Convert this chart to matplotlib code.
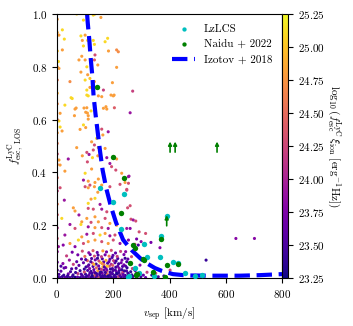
import numpy as np
import matplotlib
matplotlib.use('Agg')
import matplotlib.pyplot as plt

plt.rcParams['font.family'] = 'serif'
plt.rcParams['font.serif'] = ['cmr10']
plt.rcParams['mathtext.fontset'] = 'cm'
plt.rcParams['axes.formatter.use_mathtext'] = True
plt.rcParams['font.size'] = 8

# simulated sightlines: (v_sep, f_esc, log10(f_esc xi_ion))
sim_high = [(70,1.0,25.1),(129,0.996,25.1),(135,1.0,25.0),(156,0.987,24.8),(94,0.977,25.1),(19,0.94,25.1),
    (7,0.92,24.8),(26,0.905,25.1),(85,0.917,25.1),(100,0.92,24.8),(90,0.90,24.8),(109,0.90,25.1),
    (129,0.90,25.1),(133,0.885,25.1),(94,0.879,25.1),(171,0.895,25.1),(180,0.908,25.1),(19,0.864,24.8),
    (183,0.86,24.8),(218,0.857,24.7),(212,0.864,24.7),(88,0.84,24.8),(135,0.845,24.3),(133,0.826,24.4),
    (5,0.82,25.1),(78,0.826,24.8),(100,0.826,24.8),(145,0.807,24.8),(7,0.794,24.8),(106,0.80,25.1),
    (85,0.78,24.8),(212,0.798,24.8),(109,0.77,24.8),(100,0.75,25.1),(117,0.756,25.0),(133,0.744,24.8),
    (46,0.744,24.7),(197,0.74,24.8),(106,0.712,25.1),(165,0.712,24.2),(117,0.722,24.8),(54,0.68,25.1),
    (147,0.69,24.8),(192,0.693,24.8),(106,0.693,25.1),(269,0.708,24.2),(260,0.626,23.9),(28,0.655,25.1),
    (68,0.644,24.8),(11,0.572,25.1),(18,0.557,24.8),(96,0.644,24.8),(108,0.625,24.8),(174,0.649,24.8),
    (203,0.693,24.8),(50,0.683,25.1),(111,0.69,25.1),(159,0.687,24.8),(200,0.69,24.8),(11,0.624,24.8),
    (64,0.64,24.8),(106,0.645,24.8),(121,0.633,25.1),(102,0.628,24.8),(111,0.615,24.8),(165,0.643,24.8),
    (177,0.64,24.8),(204,0.645,24.4),(62,0.615,24.8),(111,0.602,24.8),(7,0.595,25.1),(94,0.58,25.1),
    (82,0.563,24.8),(102,0.57,24.8),(159,0.564,24.3),(182,0.554,23.9),(163,0.542,24.8),(141,0.529,25.1),
    (123,0.516,24.8),(70,0.494,24.8),(133,0.504,24.3),(147,0.494,24.8),(171,0.491,24.8),(129,0.485,24.3),
    (106,0.476,24.3),(90,0.463,24.8),(114,0.468,23.9),(126,0.456,25.1),(145,0.463,24.8),(177,0.456,23.9),
    (212,0.451,24.8),(40,0.451,23.9),(7,0.447,24.8)]

sim_mid = [(188,0.434,23.9),(108,0.44,24.3),(194,0.422,24.3),(209,0.409,24.3),(123,0.413,24.8),(28,0.405,24.8),
    (11,0.428,24.8),(100,0.397,25.1),(230,0.397,24.8),(254,0.384,23.9),(94,0.371,23.9),(111,0.367,24.8),
    (135,0.362,24.8),(147,0.375,24.8),(117,0.352,24.3),(159,0.352,24.8),(224,0.355,24.3),(242,0.362,24.8),
    (188,0.346,24.3),(256,0.386,23.9),(254,0.359,24.3),(248,0.336,24.3),(11,0.342,24.3),(100,0.346,24.3),
    (111,0.342,24.8),(133,0.346,24.8),(26,0.295,23.9),(58,0.266,24.8),(64,0.254,24.8),(78,0.239,23.9),
    (111,0.283,25.1),(121,0.299,24.8),(135,0.302,25.1),(145,0.325,24.8),(111,0.264,24.3),(129,0.261,24.3),
    (153,0.279,23.9),(159,0.261,23.9),(177,0.251,24.3),(135,0.232,24.8),(106,0.226,24.8),(88,0.213,24.8),
    (121,0.211,24.3),(147,0.213,24.8),(171,0.226,24.3),(188,0.207,24.8),(17,0.226,25.1),(46,0.203,23.9),
    (248,0.333,24.3),(251,0.266,24.3),(260,0.274,24.3),(263,0.223,24.3),(271,0.22,23.9),(280,0.216,24.3),
    (64,0.188,24.3),(85,0.203,25.1),(111,0.194,23.9),(135,0.191,24.8),(159,0.191,24.3),(182,0.188,23.9),
    (212,0.2,24.8),(76,0.144,25.1),(88,0.156,24.8),(106,0.166,23.9),(129,0.169,24.3),(153,0.163,25.1),
    (171,0.169,24.8),(188,0.16,23.9),(206,0.163,24.3),(28,0.163,23.9),(5,0.119,23.9),(22,0.125,23.8),
    (46,0.131,24.8),(64,0.119,23.8),(94,0.131,24.3),(111,0.138,24.8),(135,0.144,24.8),(159,0.138,24.3),
    (182,0.131,24.8),(200,0.144,24.3),(224,0.131,23.9),(248,0.188,23.9),(260,0.188,23.8),(292,0.175,24.3),
    (315,0.169,24.3),(254,0.144,23.8),(283,0.148,23.7),(299,0.138,23.8),(334,0.135,23.7),(277,0.128,24.3),
    (366,0.115,23.8),(289,0.125,23.5),(244,0.1,23.8),(636,0.15,23.8),(702,0.15,23.8)]

sim_edge = [(1,0.98,24.8),(1,0.93,24.9),(1,0.86,25.0),(1,0.80,24.8),(1,0.75,24.6),(1,0.70,24.9),(1,0.66,24.7),
    (1,0.60,24.5),(1,0.55,24.8),(1,0.51,24.6),(1,0.47,24.3),(1,0.43,24.7),(1,0.38,24.5),(1,0.33,24.2),
    (1,0.28,24.6),(1,0.24,24.4),(1,0.19,24.1),(1,0.15,24.3),(1,0.10,23.9),(1,0.06,23.7),(1,0.03,23.5)]

sim_low = [(3,0.004,23.4),(11,0.002,23.5),(19,0.006,23.4),(28,0.003,23.6),(37,0.005,23.4),(46,0.002,23.5),
    (55,0.006,23.4),(64,0.003,23.3),(73,0.004,23.6),(83,0.002,23.4),(93,0.005,23.5),(102,0.003,23.4),
    (111,0.006,23.7),(120,0.002,23.4),(129,0.004,23.5),(138,0.006,23.4),(147,0.003,24.3),(156,0.005,23.4),
    (165,0.002,23.5),(174,0.006,23.4),(183,0.003,23.6),(192,0.005,23.4),(201,0.002,23.5),(210,0.004,23.4),
    (219,0.006,24.2),(228,0.003,23.4),(237,0.005,23.5),(246,0.002,23.4),(258,0.004,23.6),(270,0.006,23.4),
    (284,0.003,23.5),(298,0.005,23.4),(315,0.002,23.6),
    (7,0.014,23.5),(24,0.011,23.4),(40,0.016,23.7),(57,0.012,23.4),(74,0.017,24.2),(89,0.01,23.5),
    (101,0.015,23.4),(114,0.012,23.6),(124,0.018,23.4),(134,0.011,24.4),(143,0.016,23.5),(152,0.013,23.4),
    (161,0.018,23.7),(170,0.01,23.4),(179,0.015,24.6),(188,0.012,23.5),(197,0.017,23.4),(206,0.011,23.6),
    (215,0.016,23.4),(225,0.013,24.3),(234,0.018,23.5),(243,0.01,23.4),(254,0.015,23.6),(266,0.012,23.4),
    (281,0.017,23.5),
    (14,0.026,23.6),(48,0.024,23.5),(82,0.028,23.4),(97,0.023,24.3),(109,0.029,23.5),(121,0.025,23.4),
    (133,0.022,23.7),(145,0.028,24.8),(157,0.024,23.4),(167,0.03,23.6),(178,0.026,24.4),(189,0.022,23.4),
    (199,0.028,23.5),(211,0.025,23.7),(222,0.03,23.4),(234,0.023,24.2),(247,0.027,23.5),(262,0.024,23.4),
    (279,0.029,23.6),
    (31,0.04,23.7),(68,0.037,23.5),(103,0.042,23.4),(116,0.036,23.8),(128,0.044,23.5),(140,0.039,24.5),
    (151,0.035,23.4),(163,0.043,25.0),(174,0.038,23.6),(186,0.045,24.3),(197,0.036,23.5),(209,0.041,23.4),
    (221,0.037,23.8),(233,0.044,23.5),(249,0.039,23.4),(268,0.036,24.2),
    (21,0.055,23.8),(58,0.052,24.2),(94,0.058,23.6),(113,0.05,23.5),(126,0.057,24.3),(139,0.053,23.4),
    (154,0.059,25.1),(167,0.051,24.6),(180,0.056,23.5),(193,0.052,24.0),(206,0.058,23.6),(219,0.054,23.4),
    (238,0.05,23.7),(258,0.057,23.5),
    (44,0.068,23.9),(87,0.072,23.6),(108,0.066,24.4),(123,0.074,23.5),(136,0.069,23.7),(149,0.065,24.3),
    (161,0.073,23.5),(174,0.067,24.9),(188,0.071,23.6),(201,0.066,24.2),(216,0.074,23.5),(231,0.068,23.7),
    (252,0.072,23.6),
    (34,0.084,24.2),(74,0.088,23.7),(99,0.082,24.5),(118,0.089,23.6),(133,0.083,24.3),(146,0.087,23.5),
    (158,0.081,24.2),(171,0.088,23.7),(185,0.083,24.6),(199,0.086,23.6),(214,0.082,24.2),(238,0.089,23.7),
    (54,0.098,23.7),(90,0.102,24.3),(113,0.096,23.8),(128,0.104,24.4),(143,0.097,23.6),(163,0.103,24.8),
    (176,0.099,23.7),(193,0.105,24.3),(208,0.095,23.6),(226,0.101,24.2),
    (320,0.022,24.2),(337,0.011,23.4),(307,0.011,23.6),(351,0.018,24.3),(295,0.049,23.8),(277,0.03,23.4),
    (248,0.062,23.5),(265,0.081,24.3),(402,0.03,24.2),(530,0.068,23.4),(360,0.005,23.5),(380,0.008,23.4)]

# extra crowding in the dense low-escape region
sim_low2 = [(106,0.008,23.4),(117,0.02,23.5),(125,0.009,23.3),(131,0.032,23.6),(137,0.019,23.4),
    (142,0.008,23.5),(148,0.046,23.7),(153,0.021,23.4),(158,0.033,24.2),(162,0.009,23.4),(168,0.042,23.5),
    (172,0.021,23.4),(177,0.031,23.7),(182,0.008,23.3),(185,0.062,23.6),(190,0.034,23.4),(194,0.019,23.5),
    (198,0.048,24.4),(203,0.009,23.4),(207,0.031,23.5),(212,0.018,23.3),(216,0.045,23.6),(220,0.021,23.4),
    (224,0.009,23.5),(228,0.058,23.7),(231,0.032,23.4),(236,0.012,23.6),(240,0.027,23.4),(244,0.045,23.5),
    (252,0.019,23.4),(110,0.045,23.6),(97,0.034,23.4),(86,0.015,23.5),(78,0.048,23.6),(66,0.021,23.4),
    (52,0.035,23.5),(38,0.009,23.4),(25,0.038,23.6),(14,0.045,23.5),(120,0.062,23.5),(144,0.075,23.4),
    (166,0.061,23.6),(196,0.078,23.5),(210,0.065,23.4),(131,0.052,24.9),(179,0.045,25.0),(160,0.055,24.7),
    (102,0.07,23.5),(70,0.062,23.6),(242,0.075,23.4)]

# LzLCS
lz_v = [153, 238, 199, 228, 390, 369, 309, 319, 366, 277, 430, 413, 455, 491, 515, 256, 345, 252, 290]
lz_f = [0.34, 0.32, 0.29, 0.185, 0.235, 0.16, 0.13, 0.08, 0.08, 0.04, 0.057, 0.06, 0.02, 0.008, 0.012,
        0.008, 0.007, 0.005, 0.02]

# Naidu+2022
nd_v = [142, 198, 238, 228, 270, 277, 306, 260, 284, 341, 391, 370, 430, 384, 281, 309]
nd_f = [0.725, 0.46, 0.38, 0.245, 0.127, 0.115, 0.072, 0.057, 0.015, 0.023, 0.05, 0.148, 0.053, 0.004,
        0.01, 0.068]
# lower limits
lim_v = [402, 420, 569, 390]
lim_f = [0.477, 0.477, 0.477, 0.198]

# Izotov+2018 relation
iz_v = [107, 109, 115, 120, 126, 130, 137, 145, 153, 162, 175, 192, 210, 235, 265, 295, 313, 348, 373,
        412, 460, 550, 650, 720, 800]
iz_f = [1.0, 0.97, 0.9, 0.83, 0.76, 0.69, 0.62, 0.55, 0.48, 0.41, 0.34, 0.27, 0.21, 0.145, 0.106, 0.076,
        0.06, 0.038, 0.027, 0.015, 0.01, 0.009, 0.009, 0.011, 0.015]

sim = np.array(sim_high + sim_mid + sim_edge + sim_low + sim_low2)

fig = plt.figure(figsize=(3.53, 3.26), dpi=100)
ax = fig.add_axes([0.1615, 0.147, 0.6374, 0.81])
cax = fig.add_axes([0.799, 0.147, 0.018, 0.81])

sc = ax.scatter(sim[:, 0], sim[:, 1], c=sim[:, 2], cmap='plasma', vmin=23.25, vmax=25.25,
                s=5, linewidths=0, zorder=1)
ax.plot(iz_v, iz_f, '--', color='blue', lw=3, zorder=2, label='Izotov + 2018')
ax.scatter(lz_v, lz_f, color='c', s=15, linewidths=0, zorder=3, label='LzLCS')
ax.scatter(nd_v, nd_f, color='green', s=15, linewidths=0, zorder=4, label='Naidu + 2022')
for v, f in zip(lim_v, lim_f):
    ax.annotate('', xy=(v, f + 0.04), xytext=(v, f),
                arrowprops=dict(arrowstyle='-|>', color='green', lw=1.2, mutation_scale=5,
                                shrinkA=0, shrinkB=0), zorder=4)

ax.set_xlim(0, 800)
ax.set_ylim(0, 1)
ax.set_xticks([0, 200, 400, 600, 800])
ax.set_xlabel(r'$v_{\rm sep}$ [km/s]')
ax.set_ylabel(r'$f_{\rm esc,\ LOS}^{\rm LyC}$')

h, l = ax.get_legend_handles_labels()
ax.legend([h[1], h[2], h[0]], [l[1], l[2], l[0]], loc='upper right', frameon=False,
          markerscale=0.8, handlelength=2.0)

cb = fig.colorbar(sc, cax=cax)
cb.set_ticks(np.arange(23.25, 25.26, 0.25))
cb.set_label(r'$\log_{10}(f_{\rm esc}^{\rm LyC}\,\xi_{\rm ion}\ [{\rm erg^{-1}Hz}])$', rotation=270,
             labelpad=12)

fig.savefig('out.png', dpi=100)
